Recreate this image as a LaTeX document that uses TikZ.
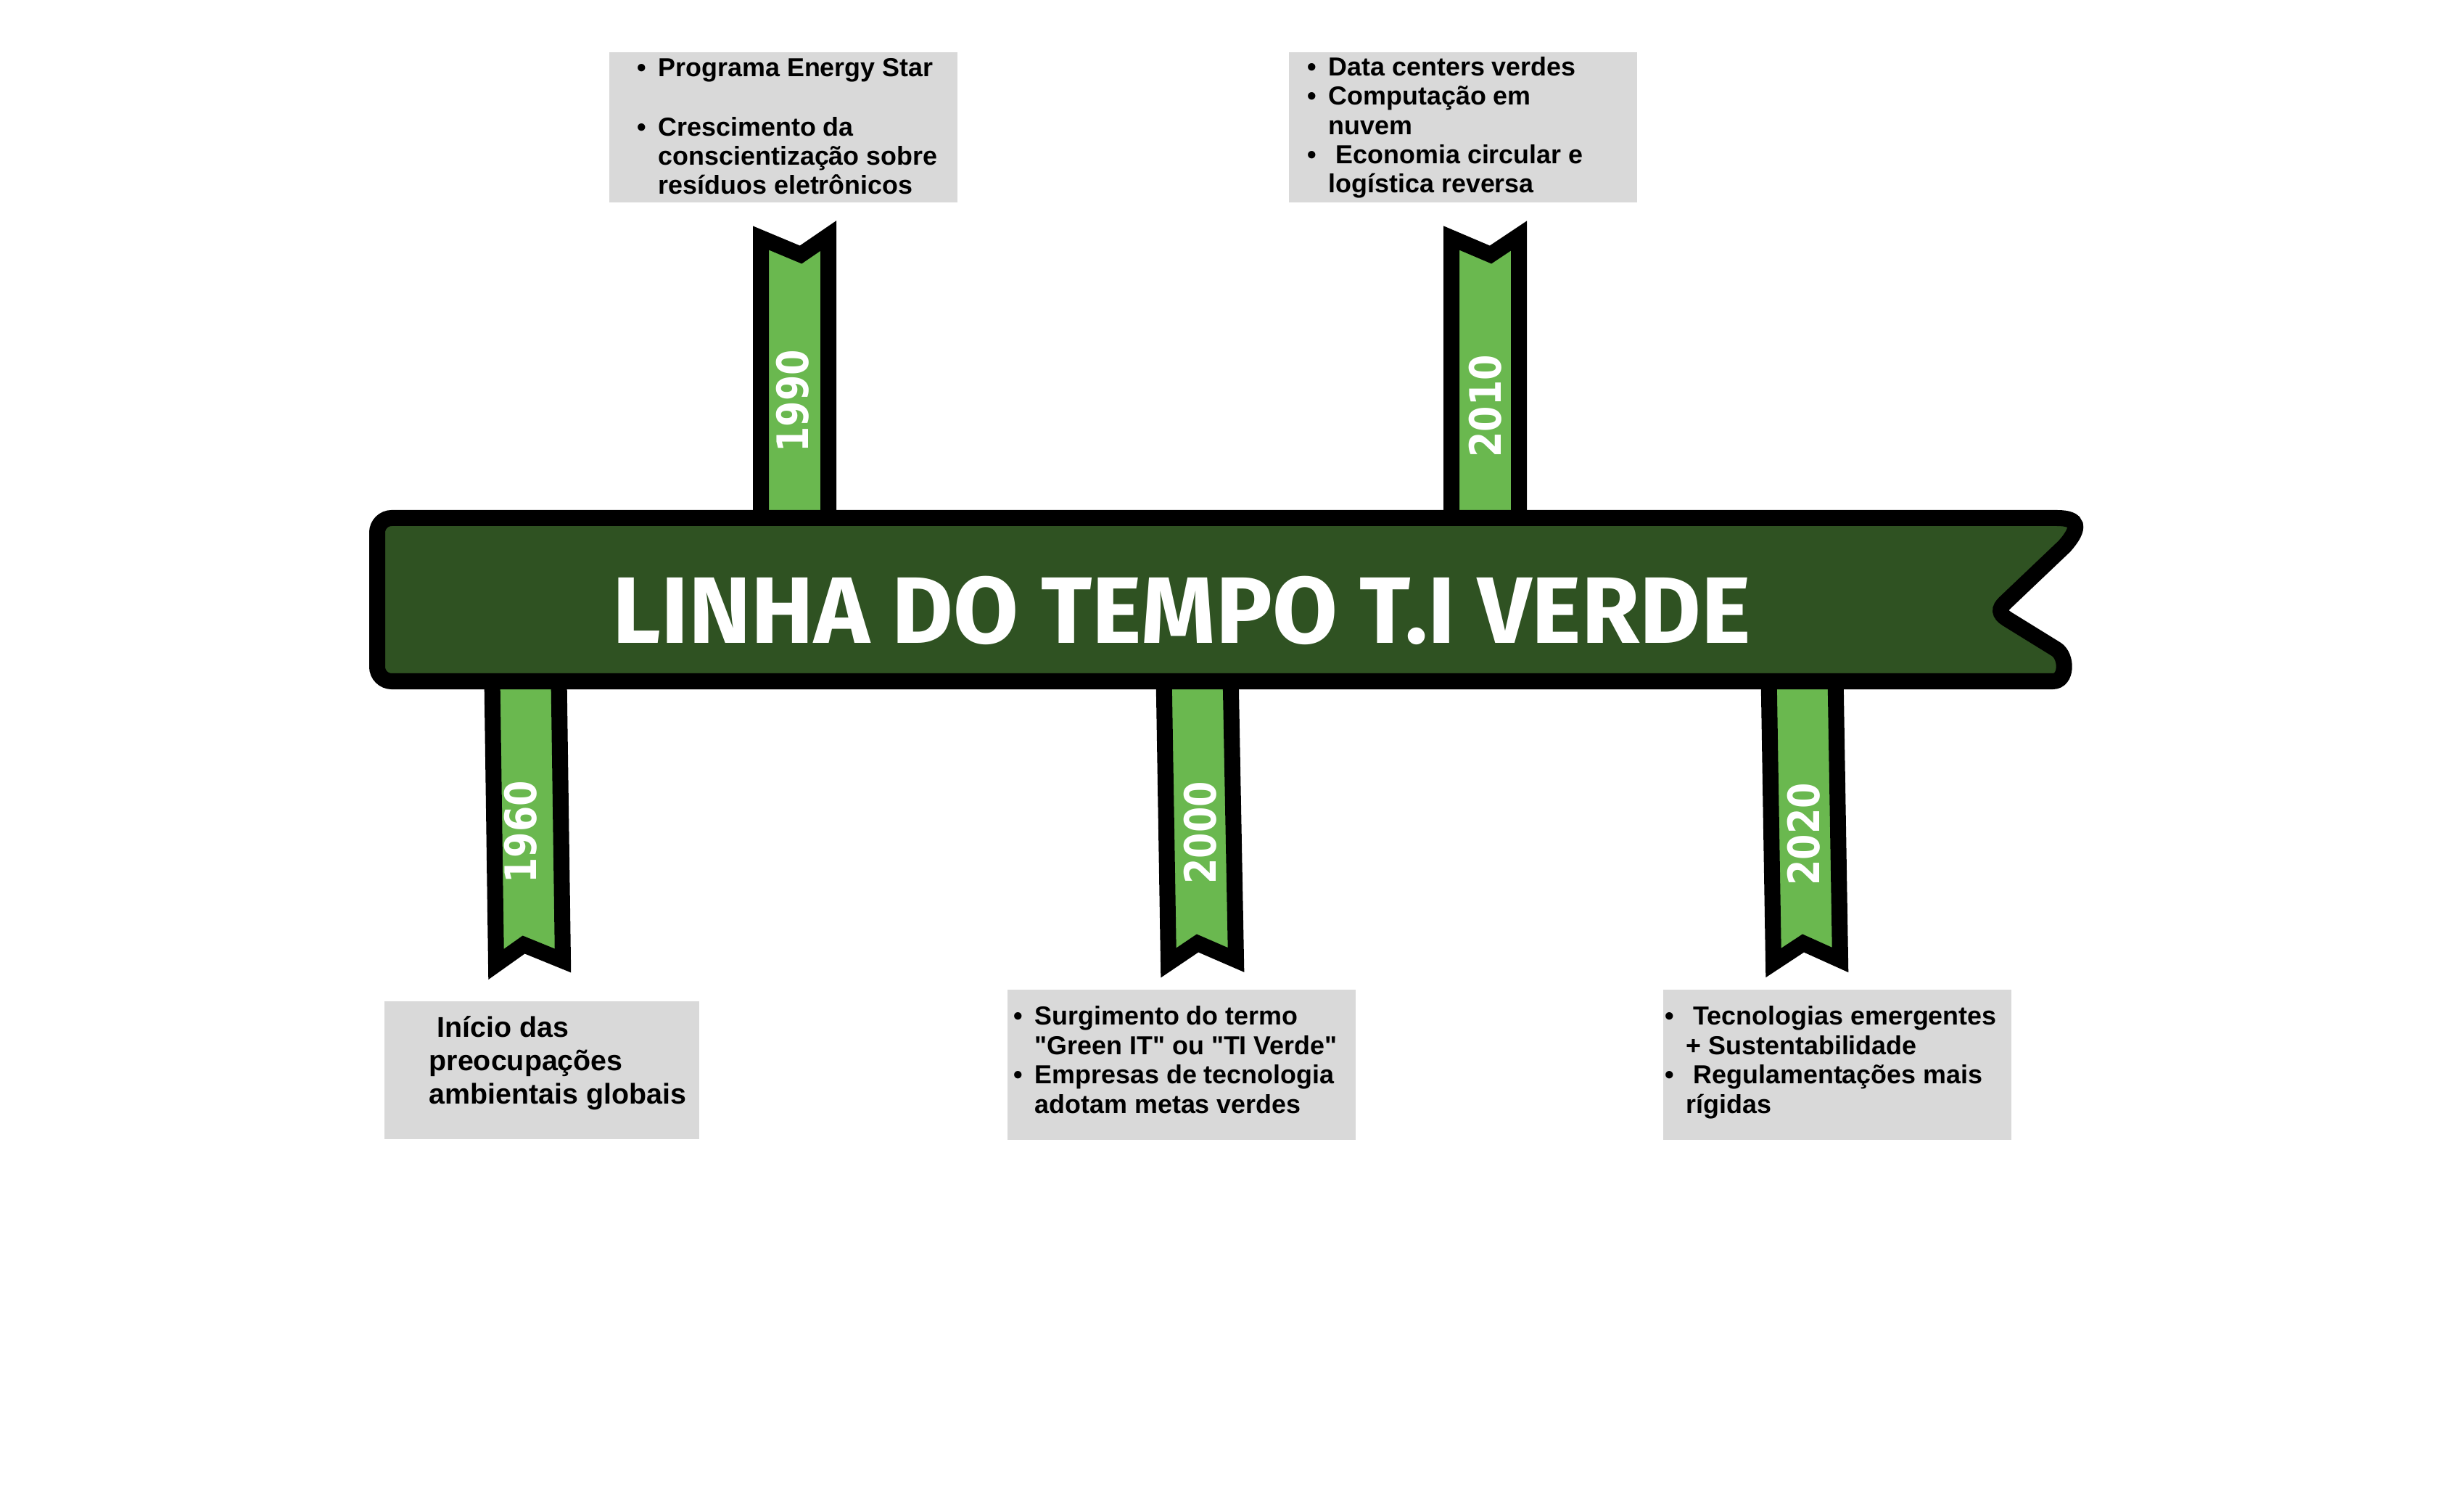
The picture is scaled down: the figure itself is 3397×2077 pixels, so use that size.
\documentclass[tikz,border=0pt]{standalone}
\usepackage{fontspec}
\setmainfont{Liberation Sans}
\newfontfamily\titlefont{Fira Sans}
\newfontfamily\yearfont{DejaVu Sans}[FakeStretch=0.85]
\usepackage{tikz}
\definecolor{darkgreen}{HTML}{2F5222}
\definecolor{leafgreen}{HTML}{6AB84F}
\definecolor{panelgray}{HTML}{D9D9D9}
\newcommand{\bul}{\makebox[0.29cm][l]{\textbullet}}
\newcommand{\ind}{\hspace*{0.29cm}}

\begin{document}
\begin{tikzpicture}[
  x=0.01cm, y=-0.01cm,
  banner/.style={draw=black, fill=darkgreen, line width=0.22cm},
  ribbon/.style={draw=black, fill=leafgreen, line width=0.22cm, line join=miter},
  year/.style={rotate=90, text=white, inner sep=0pt, font=\yearfont\bfseries\fontsize{17}{17}\selectfont},
  panel/.style={fill=panelgray, anchor=north west, inner sep=0pt},
  note/.style={align=left, anchor=base west, inner sep=0pt, font=\bfseries\fontsize{10.2}{11.5}\selectfont}]
  \useasboundingbox (0,0) rectangle (3397,2077);
  % ribbons: two above the banner, three below
  \draw[ribbon] (1049,760) -- (1049,328) -- (1104,351) -- (1142,325) -- (1142,760);
  \draw[ribbon] (2001,760) -- (2001,328) -- (2055,351) -- (2094,325) -- (2094,760);
  \draw[ribbon] (678,900) -- (684,1329) -- (722,1302) -- (776,1324) -- (770,900);
  \draw[ribbon] (1604,900) -- (1611,1327) -- (1651,1300) -- (1704,1323) -- (1696,900);
  \draw[ribbon] (2438,900) -- (2445,1327) -- (2486,1300) -- (2537,1323) -- (2530,900);
  % banner with notched right end
  \draw[banner] (1600,714) -- (2836,714) .. controls (2866,714) and (2869,727) .. (2846,753)
    -- (2765,830) .. controls (2755,839) and (2756,846) .. (2767,853)
    -- (2835,895) .. controls (2850,905) and (2850,939) .. (2830,939)
    -- (540,939) .. controls (529,939) and (520,930) .. (520,919)
    -- (520,734) .. controls (520,723) and (529,714) .. (540,714) -- cycle;
  \node[anchor=base, text=white, inner sep=0pt, font=\titlefont\bfseries\fontsize{37}{37}\selectfont]
    (title) at (1629,887) {LINHA DO TEMPO T.I VERDE};
  % years
  \node[year] (y1990) at (1093,553) {1990};
  \node[year] (y2010) at (2048,560) {2010};
  \node[year] (y1960) at (718,1147) {1960};
  \node[year] (y2000) at (1655,1148) {2000};
  \node[year] (y2020) at (2487,1150) {2020};
  % grey panels
  \node[panel, minimum width=4.80cm, minimum height=2.07cm] (b1990) at (839,71) {};
  \node[panel, minimum width=4.80cm, minimum height=2.07cm] (b2010) at (1776,71) {};
  \node[panel, minimum width=4.34cm, minimum height=1.90cm] (b1960) at (529,1379) {};
  \node[panel, minimum width=4.80cm, minimum height=2.07cm] (b2000) at (1388,1363) {};
  \node[panel, minimum width=4.80cm, minimum height=2.07cm] (b2020) at (2292,1363) {};
  % panel texts (anchored on the last line)
  \node[note] (t1990) at (878,268) {\bul Programa Energy Star\\[11.7pt]\bul Crescimento da\\\ind conscientização sobre\\\ind resíduos eletrônicos};
  \node[note] (t2010) at (1802,266) {\bul Data centers verdes\\\bul Computação em\\\ind nuvem\\\bul\ Economia circular e\\\ind logística reversa};
  \node[note, font=\bfseries\fontsize{11.2}{13}\selectfont] (t1960) at (591,1521) {\ Início das\\preocupações\\ambientais globais};
  \node[note] (t2000) at (1397,1534) {\bul Surgimento do termo\\\ind \textquotedbl Green IT\textquotedbl\ ou \textquotedbl TI Verde\textquotedbl\\\bul Empresas de tecnologia\\\ind adotam metas verdes};
  \node[note] (t2020) at (2295,1534) {\bul\ Tecnologias emergentes\\\ind + Sustentabilidade\\\bul\ Regulamentações mais\\\ind rígidas};
\end{tikzpicture}
\end{document}
